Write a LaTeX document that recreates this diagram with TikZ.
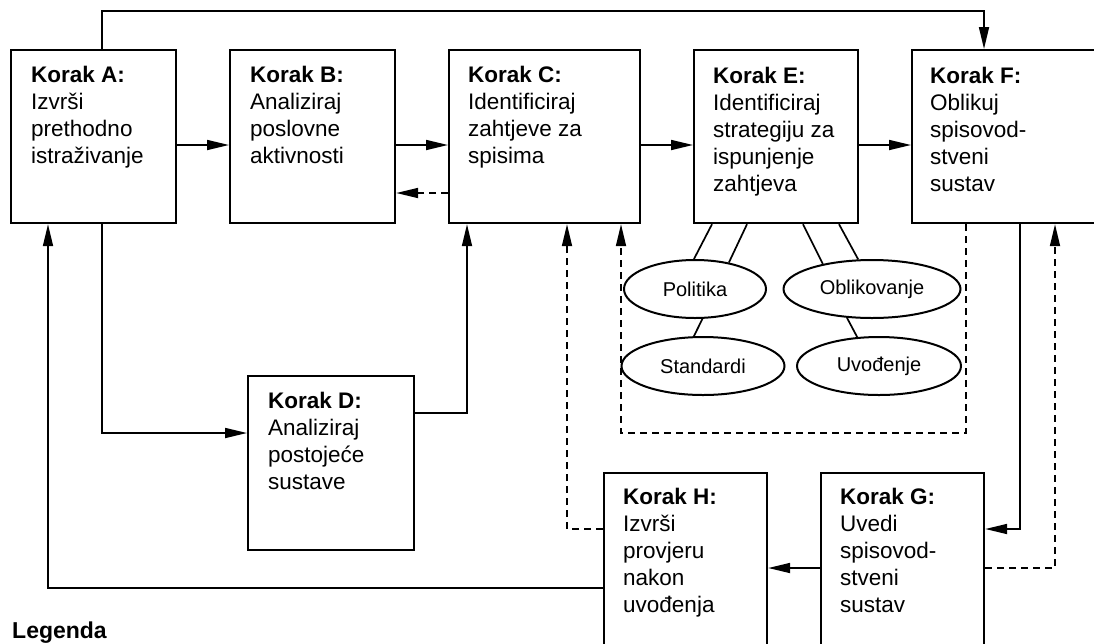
\documentclass[tikz,border=0pt]{standalone}
\usepackage{fontspec}
\setmainfont{Liberation Sans}
\usetikzlibrary{arrows.meta,shapes.geometric}
\begin{document}
\begin{tikzpicture}[x=1pt,y=-1pt,
 box/.style={draw,line width=2.2pt,rectangle,inner sep=0pt,anchor=north west},
 txt/.style={anchor=north west,inner sep=0pt,align=left,font=\fontsize{22.5}{27}\selectfont},
 conn/.style={line width=1.7pt},
 arr/.style={conn,-{Triangle[length=22pt,width=10pt]}},
 dsh/.style={dash pattern=on 7pt off 5pt},
 oval/.style={draw,ellipse,line width=2pt,inner sep=0pt,minimum height=58pt,font=\fontsize{20}{24}\selectfont}]
\useasboundingbox (0,0) rectangle (1094,643);
\clip (0,0) rectangle (1094,643);
% boxes
\node[box,minimum width=165pt,minimum height=173pt] (A) at (10,49) {};
\node[box,minimum width=165pt,minimum height=173pt] (B) at (229,49) {};
\node[box,minimum width=191pt,minimum height=173pt] (C) at (448,49) {};
\node[box,minimum width=164pt,minimum height=173pt] (E) at (693,49) {};
\node[box,minimum width=240pt,minimum height=173pt] (F) at (911,49) {};
\node[box,minimum width=166pt,minimum height=174pt] (D) at (247,375) {};
\node[box,minimum width=163pt,minimum height=250pt] (H) at (603,472) {};
\node[box,minimum width=163pt,minimum height=250pt] (G) at (820,472) {};
% texts
\node[txt] (tA) at ([shift={(21,17)}]A.north west) {\textbf{Korak A:}\\Izvrši\\prethodno\\istraživanje};
\node[txt] (tB) at ([shift={(21,17)}]B.north west) {\textbf{Korak B:}\\Analiziraj\\poslovne\\aktivnosti};
\node[txt] (tC) at ([shift={(20,17)}]C.north west) {\textbf{Korak C:}\\Identificiraj\\zahtjeve za\\spisima};
\node[txt] (tE) at ([shift={(20,18)}]E.north west) {\textbf{Korak E:}\\Identificiraj\\strategiju za\\ispunjenje\\zahtjeva};
\node[txt] (tF) at ([shift={(19,18)}]F.north west) {\textbf{Korak F:}\\Oblikuj\\spisovod-\\stveni\\sustav};
\node[txt] (tD) at ([shift={(21,17)}]D.north west) {\textbf{Korak D:}\\Analiziraj\\postojeće\\sustave};
\node[txt] (tH) at ([shift={(20,16)}]H.north west) {\textbf{Korak H:}\\Izvrši\\provjeru\\nakon\\uvođenja};
\node[txt] (tG) at ([shift={(20,16)}]G.north west) {\textbf{Korak G:}\\Uvedi\\spisovod-\\stveni\\sustav};
% ellipses
\node[oval,minimum width=142pt] (Pol) at (695,289) {Politika};
\node[oval,minimum width=177pt] (Obl) at (872,289) {Oblikovanje};
\node[oval,minimum width=163pt] (Std) at (703,366) {Standardi};
\node[oval,minimum width=164pt] (Uvo) at (879,366) {Uvođenje};
\node[anchor=base west,inner sep=0pt,font=\bfseries\fontsize{23}{27}\selectfont] (leg) at (12,638) {Legenda};
% coordinates
\coordinate (r1) at (0,145);
\coordinate (r2) at (0,193);
\coordinate (t1) at (102,11);
\coordinate (t2) at (984,11);
\coordinate (d1) at (102,433);
\coordinate (d2) at (467,413);
\coordinate (h1) at (567,529);
\coordinate (f1) at (966,433);
\coordinate (f2) at (621,433);
\coordinate (g1) at (1020,529);
\coordinate (g2) at (1055,568);
\coordinate (g3) at (0,568);
\coordinate (a1) at (48,588);
\coordinate (e1) at (712,0);
\coordinate (e2) at (747,0);
\coordinate (e3) at (803,0);
\coordinate (e4) at (839,0);
% connectors
\draw[arr] (A.east |- r1) -- (B.west |- r1);
\draw[arr] (B.east |- r1) -- (C.west |- r1);
\draw[arr] (C.east |- r1) -- (E.west |- r1);
\draw[arr] (E.east |- r1) -- (F.west |- r1);
\draw[arr,dsh] (C.west |- r2) -- (B.east |- r2);
\draw[arr] (A.north -| t1) -- (t1) -- (t2) -- (F.north -| t2);
\draw[arr] (A.south -| d1) -- (d1) -- (D.west |- d1);
\draw[arr] (D.east |- d2) -- (d2) -- (C.south -| d2);
\draw[arr,dsh] (H.west |- h1) -- (h1) -- (C.south -| h1);
\draw[arr,dsh] (F.south -| f1) -- (f1) -- (f2) -- (C.south -| f2);
\draw[arr] (F.south -| g1) -- (g1) -- (G.east |- g1);
\draw[arr,dsh] (G.east |- g2) -- (g2) -- (F.south -| g2);
\draw[arr] (G.west |- g3) -- (H.east |- g3);
\draw[arr] (H.west |- a1) -- (a1) -- (A.south -| a1);
\draw[conn] (E.south -| e1) -- (Pol.92);
\draw[conn] (E.south -| e2) -- (Pol.38);
\draw[conn] (E.south -| e3) -- (Obl.153);
\draw[conn] (E.south -| e4) -- (Obl.115);
\draw[conn] (Pol.-76) -- (Std.107);
\draw[conn] (Obl.-131) -- (Uvo.127);
\end{tikzpicture}
\end{document}
